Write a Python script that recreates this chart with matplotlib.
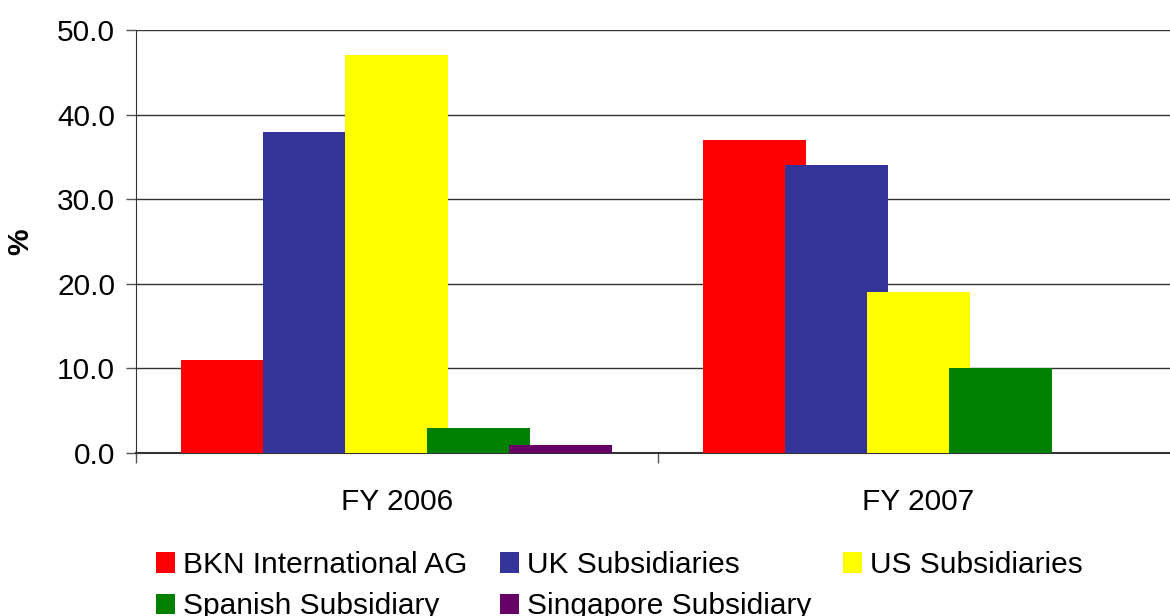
import matplotlib
matplotlib.use("Agg")
import matplotlib.pyplot as plt
import numpy as np
from matplotlib.patches import Patch

categories = ["FY 2006", "FY 2007"]
series_names = ["BKN International AG", "UK Subsidiaries", "US Subsidiaries",
                "Spanish Subsidiary", "Singapore Subsidiary"]
bkn = [11, 37]
uk = [38, 34]
us = [47, 19]
spanish = [3, 10]
singapore = [1, 0]
colors = ["#ff0000", "#333399", "#ffff00", "#008000", "#660066"]
yticks = [0, 10, 20, 30, 40, 50]

plt.rcParams['font.family'] = ['Liberation Sans', 'DejaVu Sans']
FS = 21.5

fig = plt.figure(figsize=(11.7, 6.16), dpi=100)
ax = fig.add_axes([136/1170, 1-453/616, (1170-136)/1170, (453-30)/616])

x = np.arange(len(categories))
step = 0.157
width = 0.198
all_series = [bkn, uk, us, spanish, singapore]
for i, (vals, c) in enumerate(zip(all_series, colors)):
    xs = x + (i - 2) * step
    v = np.array(vals, dtype=float)
    mask = v > 0
    ax.bar(xs[mask], v[mask], width=width, color=c, linewidth=0, zorder=3 + i)

ax.set_yticks(yticks)
ax.set_yticklabels([f"{t:.1f}" for t in yticks], fontsize=FS)
ax.set_xticks(x)
ax.set_xticklabels(categories, fontsize=FS)
ax.set_xticks([-0.5, 0.5], minor=True)
ax.set_ylim(0, 50)
ax.set_xlim(-0.5, 1.482)
ax.tick_params(axis='x', which='major', length=0, pad=25)
ax.tick_params(axis='x', which='minor', length=7, width=1, color='#555555', direction='out')
ax.tick_params(axis='y', length=7, width=1, color='#555555', direction='out', pad=8)
ax.yaxis.grid(True, color='#333333', linewidth=1, zorder=1)
ax.set_axisbelow(True)
for s in ['top', 'right']:
    ax.spines[s].set_visible(False)
ax.spines['left'].set_color('#333333')
ax.spines['bottom'].set_color('#333333')
ax.spines['bottom'].set_linewidth(1.5)
ax.set_ylabel("%", fontsize=FS, fontweight='bold')
ax.yaxis.set_label_coords(-0.098, 0.5)

handles = [Patch(facecolor=c, edgecolor='none') for c in colors]
order = [0, 3, 1, 4, 2]
fig.legend([handles[i] for i in order], [series_names[i] for i in order],
           ncol=3, loc='upper left', bbox_to_anchor=(156/1170, 1-551/616),
           frameon=False, fontsize=FS, handlelength=0.64, handleheight=0.67,
           handletextpad=0.27, columnspacing=1.07, labelspacing=0.45,
           borderaxespad=0, borderpad=0)

fig.savefig("out.png", dpi=100)
